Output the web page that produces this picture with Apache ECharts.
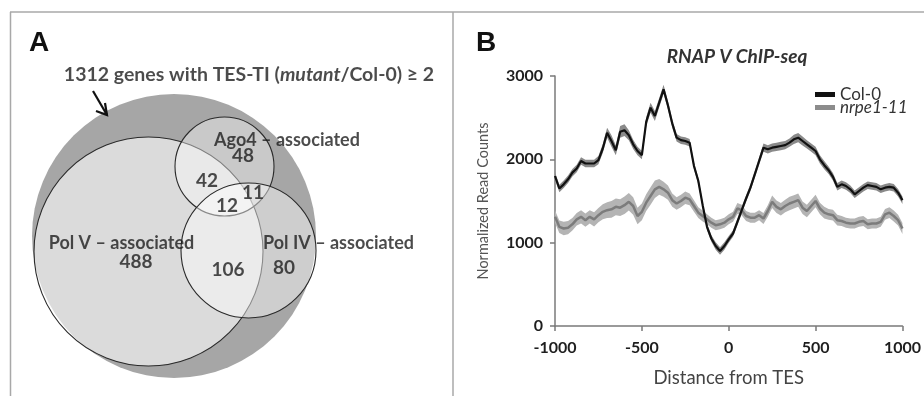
<!DOCTYPE html>
<html>
<head>
<meta charset="utf-8">
<script src="https://cdn.jsdelivr.net/npm/echarts@6/dist/echarts.min.js"></script>
<style>
html,body{margin:0;padding:0;background:#fff;}
#chart{width:924px;height:396px;}
</style>
</head>
<body>
<div id="chart"></div>
<script>
// ---------------- Panel A: Venn data ----------------
const vennSetNames = ['Pol V – associated', 'Ago4 – associated', 'Pol IV – associated'];
const vennRegionNames = ['Pol V only', 'Ago4 only', 'Pol IV only', 'Pol V ∩ Ago4', 'Pol V ∩ Ago4 ∩ Pol IV', 'Ago4 ∩ Pol IV', 'Pol V ∩ Pol IV'];
const vennRegionCounts = [488, 48, 80, 42, 12, 11, 106];

// ---------------- Panel B: profile data ----------------
const distance = [-1000,-975,-950,-925,-900,-875,-850,-825,-800,-775,-750,-725,-700,-675,-650,-625,-600,-575,-550,-525,-500,-475,-450,-425,-400,-375,-350,-325,-300,-275,-250,-225,-200,-175,-150,-125,-100,-75,-50,-25,0,25,50,75,100,125,150,175,200,225,250,275,300,325,350,375,400,425,450,475,500,525,550,575,600,625,650,675,700,725,750,775,800,825,850,875,900,925,950,975,1000];
const col0 = [1800,1650,1700,1760,1840,1890,1980,1950,1950,1950,1990,2130,2320,2220,2110,2330,2350,2290,2180,2100,2050,2450,2620,2520,2680,2840,2650,2430,2260,2230,2220,2200,1920,1740,1450,1190,1050,960,900,960,1040,1110,1250,1390,1530,1660,1820,1980,2140,2120,2140,2150,2160,2170,2200,2240,2260,2220,2180,2140,2100,2000,1930,1870,1790,1670,1700,1680,1640,1580,1620,1660,1690,1680,1670,1640,1660,1670,1660,1600,1510];
const col0Err = [45,45,45,45,45,45,45,45,45,45,50,55,60,70,60,70,70,60,55,50,50,55,60,60,55,55,50,50,45,45,45,45,40,40,40,40,40,45,45,45,40,40,40,40,40,40,40,45,50,50,50,50,50,50,50,55,55,55,50,50,50,50,50,45,45,45,45,45,45,45,45,45,45,45,45,45,45,45,45,45,45];
const nrpe = [1310,1190,1170,1180,1220,1280,1310,1270,1310,1280,1330,1370,1390,1400,1430,1420,1450,1490,1440,1320,1370,1480,1560,1640,1670,1640,1600,1510,1470,1500,1540,1520,1440,1360,1320,1280,1240,1210,1220,1240,1280,1310,1410,1390,1320,1300,1300,1330,1290,1380,1490,1430,1400,1440,1470,1490,1510,1420,1380,1440,1500,1410,1360,1340,1330,1270,1260,1240,1230,1230,1250,1260,1220,1230,1230,1250,1340,1360,1320,1270,1170];
const nrpeErr = [75,75,80,80,75,75,80,80,80,85,85,90,95,100,100,100,105,105,105,100,100,100,105,105,95,90,85,80,75,75,75,70,70,65,65,60,60,60,60,60,60,60,65,65,60,60,60,60,65,70,75,75,75,75,80,80,80,75,75,75,75,70,70,65,65,65,60,60,60,60,60,60,60,60,60,60,65,65,65,65,65];
const yTicks = [0, 1000, 2000, 3000];
const xTicks = [-1000, -500, 0, 500, 1000];

// ---------------- Layout (pixel space of panel A) ----------------
const circleLayout = {           // [cx, cy, r]
  all:   [174, 236, 142],
  polV:  [148.5, 251.5, 114.5],
  ago4:  [224.5, 166.5, 49.5],
  polIV: [248.5, 250.5, 67.5]
};
const setLabelPos = [[121.5, 243], [287, 140], [338.5, 243]];
const regionLabelPos = [[136, 262], [243, 156], [284, 268], [207, 181], [227, 206], [253, 193], [228, 270]];
const titlePos = [249, 75];

const FONT = 'Lato, "Open Sans", "Liberation Sans", sans-serif';
const chart = echarts.init(document.getElementById('chart'), null, {renderer: 'canvas'});

function circleItem(c, color, border) {
  return {
    value: [c[0], c[1]],
    symbolSize: c[2] * 2,
    itemStyle: {color: color, borderColor: border ? '#2a2a2a' : 'transparent', borderWidth: border ? 1.1 : 0, opacity: 1}
  };
}
function textItem(pos, text, size) {
  return {
    value: pos,
    label: {show: true, position: 'inside', formatter: text, fontSize: size, fontWeight: 'bold', color: '#1e1e1e', fontFamily: FONT}
  };
}
// band polygon through the axis scales (custom series)
function bandSeries(name, values, errs, color) {
  return {
    type: 'custom', name: name, xAxisIndex: 0, yAxisIndex: 0, silent: true, z: 2,
    data: [0],
    renderItem: function (params, api) {
      const pts = [];
      for (let i = 0; i < distance.length; i++) pts.push(api.coord([distance[i], values[i] + errs[i]]));
      for (let i = distance.length - 1; i >= 0; i--) pts.push(api.coord([distance[i], values[i] - errs[i]]));
      return {type: 'polygon', shape: {points: pts}, style: {fill: color, stroke: null}};
    }
  };
}

const lineStyleAxis = {color: '#7a7a7a', width: 1.5};
const baseLine = {type: 'line', xAxisIndex: 0, yAxisIndex: 0, symbol: 'none', silent: true, z: 3};
const legendCommon = {orient: 'vertical', left: 815, icon: 'rect', itemWidth: 20, itemHeight: 5, selectedMode: false, padding: 0};

const option = {
  animation: false,
  backgroundColor: '#ffffff',
  grid: [
    {left: 555, right: 20, top: 76, bottom: 70},
    {left: 0, right: 0, top: 0, bottom: 0}
  ],
  xAxis: [
    {
      gridIndex: 0, type: 'value', min: -1000, max: 1000, interval: 500,
      axisLine: {show: true, onZero: false, lineStyle: lineStyleAxis},
      axisTick: {show: true, length: 5, lineStyle: lineStyleAxis},
      splitLine: {show: false},
      axisLabel: {color: '#1e1e1e', fontWeight: 'bold', fontSize: 16, margin: 14, fontFamily: FONT,
        customValues: xTicks, formatter: v => String(v)},
      name: 'Distance from TES', nameLocation: 'middle', nameGap: 43,
      nameTextStyle: {fontSize: 18.5, color: '#444', fontFamily: FONT}
    },
    {gridIndex: 1, type: 'value', min: 0, max: 924, show: false}
  ],
  yAxis: [
    {
      gridIndex: 0, type: 'value', min: 0, max: 3000, interval: 1000,
      axisLine: {show: true, onZero: false, lineStyle: lineStyleAxis},
      axisTick: {show: true, length: 5, lineStyle: lineStyleAxis},
      splitLine: {show: false},
      axisLabel: {color: '#1e1e1e', fontWeight: 'bold', fontSize: 16, margin: 12, fontFamily: FONT,
        customValues: yTicks, formatter: v => String(v)},
      name: 'Normalized Read Counts', nameLocation: 'middle', nameGap: 64,
      nameTextStyle: {fontSize: 14.5, color: '#555', fontFamily: FONT}
    },
    {gridIndex: 1, type: 'value', min: 0, max: 396, inverse: true, show: false}
  ],
  title: [
    {text: 'RNAP V ChIP-seq', left: 732, top: 42, textAlign: 'center',
      textStyle: {fontSize: 19, fontWeight: 'bold', fontStyle: 'italic', color: '#333', fontFamily: FONT}},
    {text: 'A', left: 24, top: 24, textStyle: {fontSize: 28, fontWeight: 'bold', color: '#111', fontFamily: '"Liberation Sans", Arial, sans-serif'}},
    {text: 'B', left: 471, top: 24, textStyle: {fontSize: 28, fontWeight: 'bold', color: '#111', fontFamily: '"Liberation Sans", Arial, sans-serif'}}
  ],
  legend: [
    Object.assign({}, legendCommon, {data: ['Col-0'], top: 86,
      textStyle: {fontSize: 17, color: '#333', fontFamily: FONT, lineHeight: 17}}),
    Object.assign({}, legendCommon, {data: ['nrpe1-11'], top: 99,
      textStyle: {fontSize: 17, fontStyle: 'italic', color: '#333', fontFamily: FONT, lineHeight: 17}})
  ],
  graphic: [
    {type: 'line', shape: {x1: 10, y1: 12, x2: 924, y2: 12}, style: {stroke: '#a8a8a8', lineWidth: 1.5}, z: 100},
    {type: 'line', shape: {x1: 10.5, y1: 12, x2: 10.5, y2: 396}, style: {stroke: '#a8a8a8', lineWidth: 1.5}, z: 100},
    {type: 'line', shape: {x1: 453, y1: 12, x2: 453, y2: 396}, style: {stroke: '#a8a8a8', lineWidth: 1.5}, z: 100},
    {type: 'polyline', shape: {points: [[93, 91], [107, 115]]}, style: {stroke: '#111', lineWidth: 2.2, fill: null}, z: 100},
    {type: 'polyline', shape: {points: [[105, 103], [107, 115], [96, 111]]}, style: {stroke: '#111', lineWidth: 2.2, fill: null}, z: 100}
  ],
  series: [
    // ---- Panel A Venn circles ----
    {
      type: 'scatter', xAxisIndex: 1, yAxisIndex: 1, symbol: 'circle', silent: true, z: 2,
      data: [
        circleItem(circleLayout.all, '#a6a6a6', false),
        circleItem(circleLayout.polV, 'rgba(255,255,255,0.6)', true),
        circleItem(circleLayout.ago4, 'rgba(255,255,255,0.4)', true),
        circleItem(circleLayout.polIV, 'rgba(255,255,255,0.45)', true)
      ]
    },
    // ---- Panel A texts ----
    {
      type: 'scatter', xAxisIndex: 1, yAxisIndex: 1, symbolSize: 0, silent: true, z: 5,
      data: [
        {value: titlePos, label: {show: true, position: 'inside', formatter: '{b|1312 genes with TES-TI (}{i|mutant}{b|/Col-0) ≥ 2}',
          rich: {b: {fontSize: 19.5, fontWeight: 'bold', color: '#1e1e1e', fontFamily: FONT},
                 i: {fontSize: 19.5, fontWeight: 'bold', fontStyle: 'italic', color: '#1e1e1e', fontFamily: FONT}}}}
      ].concat(vennSetNames.map((n, i) => textItem(setLabelPos[i], n, 18)))
       .concat(vennRegionCounts.map((c, i) => textItem(regionLabelPos[i], String(c), 19)))
    },
    // ---- Panel B bands ----
    bandSeries('nrpeBand', nrpe, nrpeErr, '#b4b4b4'),
    bandSeries('colBand', col0, col0Err, '#8a8a8a'),
    Object.assign({}, baseLine, {name: 'nrpe1-11', color: '#8c8c8c', lineStyle: {width: 2.5, color: '#7c7c7c'},
      data: distance.map((x, i) => [x, nrpe[i]])}),
    Object.assign({}, baseLine, {name: 'Col-0', color: '#111', lineStyle: {width: 2.2, color: '#111'},
      data: distance.map((x, i) => [x, col0[i]])})
  ]
};
chart.setOption(option);
</script>
</body>
</html>
